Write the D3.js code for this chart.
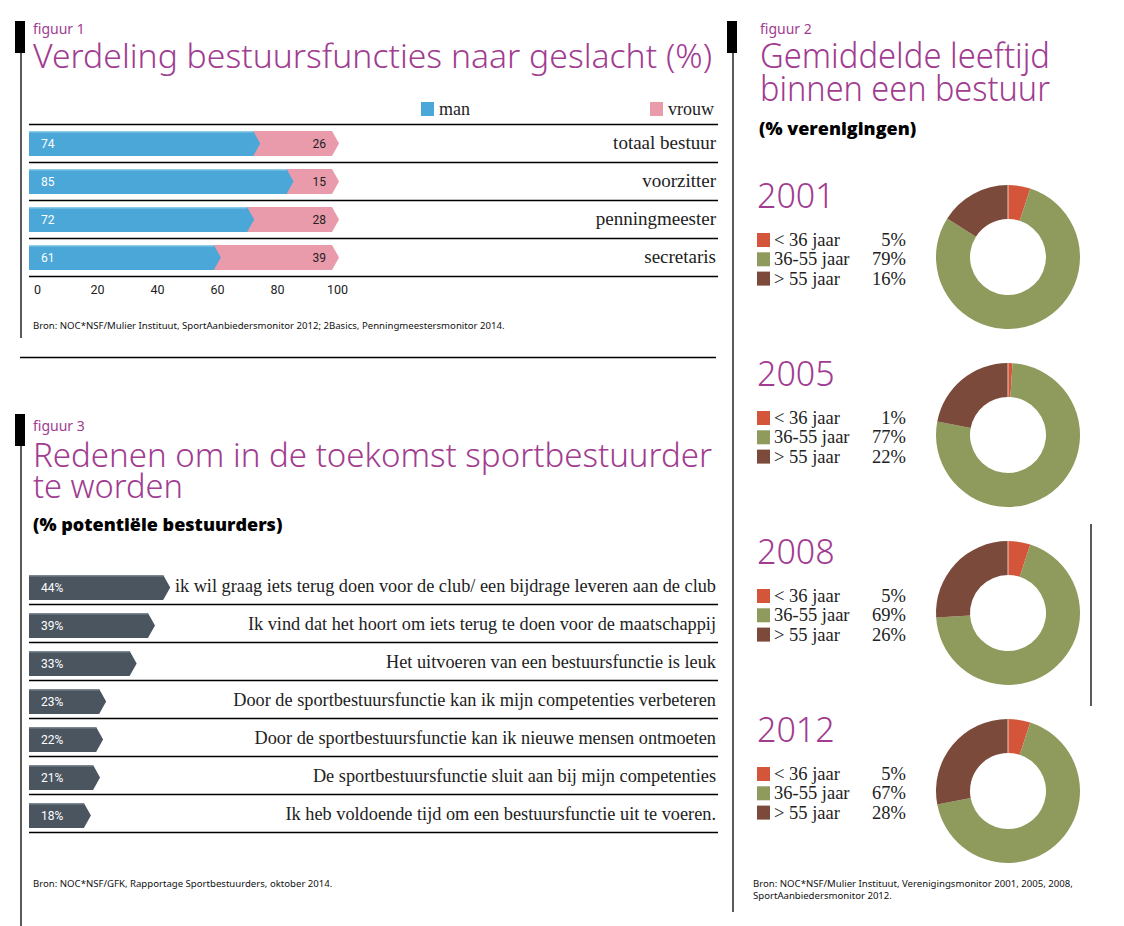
<!doctype html>
<html>
<head>
<meta charset="utf-8">
<script src="https://cdnjs.cloudflare.com/ajax/libs/d3/7.8.5/d3.min.js"></script>
<style>
  body { margin: 0; background: #fff; }
  svg { display: block; }
  .ttl { fill: #A13C91; font-family: "Noto Sans", "Open Sans", sans-serif; font-weight: 300; }
  .fig { fill: #A13C91; font-family: "Noto Sans", sans-serif; font-size: 14px; }
  .sub { fill: #000; font-family: "Open Sans", "Noto Sans", sans-serif; font-weight: 800; font-size: 18px; }
  .serif { font-family: "Liberation Serif", "DejaVu Serif", serif; fill: #222; }
  .bron { font-family: "Noto Sans", sans-serif; font-size: 9.6px; fill: #111; }
  .small { font-family: "Roboto", "Noto Sans", sans-serif; font-size: 12px; }
</style>
</head>
<body>
<svg id="chart" width="1124" height="926"></svg>
<script>
// figuur 1
var functies = ["totaal bestuur", "voorzitter", "penningmeester", "secretaris"];
var man = [74, 85, 72, 61];
var vrouw = [26, 15, 28, 39];
var ticks1 = [0, 20, 40, 60, 80, 100];

// figuur 3
var redenen = [
  "ik wil graag iets terug doen voor de club/ een bijdrage leveren aan de club",
  "Ik vind dat het hoort om iets terug te doen voor de maatschappij",
  "Het uitvoeren van een bestuursfunctie is leuk",
  "Door de sportbestuursfunctie kan ik mijn competenties verbeteren",
  "Door de sportbestuursfunctie kan ik nieuwe mensen ontmoeten",
  "De sportbestuursfunctie sluit aan bij mijn competenties",
  "Ik heb voldoende tijd om een bestuursfunctie uit te voeren."
];
var redenPct = [44, 39, 33, 23, 22, 21, 18];

// figuur 2
var jaren = ["2001", "2005", "2008", "2012"];
var leeftijden = ["< 36 jaar", "36-55 jaar", "> 55 jaar"];
var jong = [5, 1, 5, 5];
var midden = [79, 77, 69, 67];
var oud = [16, 22, 26, 28];

var purple = "#A13C91";
var svg = d3.select("#chart");

// arrow shaped bar
function arrow(x0, x1, y, h, tip) {
  return "M" + x0 + "," + y + "L" + x1 + "," + y + "L" + (x1 + tip) + "," + (y + h / 2) +
    "L" + x1 + "," + (y + h) + "L" + x0 + "," + (y + h) + "Z";
}

function title(x, y, txt, len, size) {
  svg.append("text").attr("class", "ttl").attr("x", x).attr("y", y)
    .style("font-size", size + "px")
    .attr("textLength", len).attr("lengthAdjust", "spacingAndGlyphs")
    .text(txt);
}

function marker(x, y, lineTo) {
  svg.append("rect").attr("x", x).attr("y", y).attr("width", 10).attr("height", 32).attr("fill", "#000");
  svg.append("line").attr("x1", x + 6).attr("x2", x + 6).attr("y1", y + 32).attr("y2", lineTo)
    .attr("stroke", "#000").attr("stroke-width", 1.3);
}

// ---------- figuur 1 ----------
marker(15, 21, 338);
svg.append("text").attr("class", "fig").attr("x", 33).attr("y", 34).text("figuur 1");
title(33, 68, "Verdeling bestuursfuncties naar geslacht (%)", 679, 33);

var x1 = d3.scaleLinear().domain([0, 100]).range([29, 332]);
var y1 = d3.scaleBand().domain(functies).range([131, 283]);

// legend
var leg = [["man", "#4AA7D8", 421], ["vrouw", "#E99AAB", 650]];
leg.forEach(function(l) {
  svg.append("rect").attr("x", l[2]).attr("y", 102).attr("width", 13).attr("height", 14).attr("fill", l[1]);
  svg.append("text").attr("class", "serif").attr("x", l[2] + 18).attr("y", 115)
    .style("font-size", "18px").text(l[0]);
});

svg.append("line").attr("x1", 29).attr("x2", 718).attr("y1", 124.5).attr("y2", 124.5)
  .attr("stroke", "#000").attr("stroke-width", 1.3);

var rows1 = svg.append("g").selectAll("g").data(functies).enter().append("g");
rows1.append("path").attr("fill", "#E99AAB")
  .attr("d", function(d, i) { return arrow(x1(0), x1(man[i] + vrouw[i]), y1(d), 25, 7); });
rows1.append("path").attr("fill", "#4AA7D8")
  .attr("d", function(d, i) { return arrow(x1(0), x1(man[i]), y1(d), 25, 7); });
rows1.append("line").attr("x1", x1(0)).attr("x2", function(d, i) { return x1(man[i]); })
  .attr("y1", function(d) { return y1(d) + 0.8; }).attr("y2", function(d) { return y1(d) + 0.8; })
  .attr("stroke", "#8ccaea").attr("stroke-width", 1.5);
rows1.append("text").attr("class", "small").attr("fill", "#fff")
  .attr("x", 41).attr("y", function(d) { return y1(d) + 17; })
  .text(function(d, i) { return man[i]; });
rows1.append("text").attr("class", "small").attr("fill", "#222").attr("text-anchor", "end")
  .attr("x", function(d, i) { return x1(man[i] + vrouw[i]) - 6; }).attr("y", function(d) { return y1(d) + 17; })
  .text(function(d, i) { return vrouw[i]; });
rows1.append("text").attr("class", "serif").attr("text-anchor", "end").style("font-size", "19px")
  .attr("x", 716).attr("y", function(d) { return y1(d) + 18; })
  .text(function(d) { return d; });
rows1.append("line").attr("x1", 29).attr("x2", 718)
  .attr("y1", function(d) { return y1(d) + 31.5; }).attr("y2", function(d) { return y1(d) + 31.5; })
  .attr("stroke", "#000").attr("stroke-width", 1.3);

var xAxis1 = d3.axisBottom(x1.copy().range([37, 337])).tickValues(ticks1).tickSize(0).tickPadding(0);
var ax = svg.append("g").attr("transform", "translate(0,285)").call(xAxis1);
ax.select(".domain").remove();
ax.selectAll("text").attr("class", "small").attr("fill", "#222").style("font-size", "12.5px");

svg.append("text").attr("class", "bron").attr("x", 33).attr("y", 329)
  .text("Bron: NOC*NSF/Mulier Instituut, SportAanbiedersmonitor 2012; 2Basics, Penningmeestersmonitor 2014.");

svg.append("line").attr("x1", 20).attr("x2", 716).attr("y1", 357.5).attr("y2", 357.5)
  .attr("stroke", "#000").attr("stroke-width", 1.3);

// ---------- figuur 3 ----------
marker(15, 414, 926);
svg.append("text").attr("class", "fig").attr("x", 33).attr("y", 431).text("figuur 3");
title(33, 467, "Redenen om in de toekomst sportbestuurder", 679, 33);
title(33, 498, "te worden", 150, 33);
svg.append("text").attr("class", "sub").attr("x", 33).attr("y", 531).text("(% potentiële bestuurders)");

var x3 = d3.scaleLinear().domain([0, 100]).range([29, 334]);
var y3 = d3.scaleBand().domain(redenen).range([575, 841]);

var rows3 = svg.append("g").selectAll("g").data(redenen).enter().append("g");
rows3.append("path").attr("fill", "#4A5560")
  .attr("d", function(d, i) { return arrow(x3(0), x3(redenPct[i]), y3(d), 25, 7); });
rows3.append("line").attr("x1", x3(0)).attr("x2", function(d, i) { return x3(redenPct[i]); })
  .attr("y1", function(d) { return y3(d) + 0.8; }).attr("y2", function(d) { return y3(d) + 0.8; })
  .attr("stroke", "#7d8790").attr("stroke-width", 1.5);
rows3.append("text").attr("class", "small").attr("fill", "#fff")
  .attr("x", 41).attr("y", function(d) { return y3(d) + 17; })
  .text(function(d, i) { return redenPct[i] + "%"; });
rows3.append("text").attr("class", "serif").attr("text-anchor", "end").style("font-size", "18.3px")
  .attr("x", 716).attr("y", function(d) { return y3(d) + 17; })
  .text(function(d) { return d; });
rows3.append("line").attr("x1", 29).attr("x2", 718)
  .attr("y1", function(d) { return y3(d) + 29.5; }).attr("y2", function(d) { return y3(d) + 29.5; })
  .attr("stroke", "#000").attr("stroke-width", 1.3);

svg.append("text").attr("class", "bron").attr("x", 33).attr("y", 887)
  .text("Bron: NOC*NSF/GFK, Rapportage Sportbestuurders, oktober 2014.");

// ---------- figuur 2 ----------
marker(727, 21, 912);
svg.append("line").attr("x1", 1091).attr("x2", 1091).attr("y1", 524).attr("y2", 706)
  .attr("stroke", "#000").attr("stroke-width", 1.3);
svg.append("text").attr("class", "fig").attr("x", 760).attr("y", 34).text("figuur 2");
title(760, 68, "Gemiddelde leeftijd", 290, 34);
title(760, 101, "binnen een bestuur", 290, 34);
svg.append("text").attr("class", "sub").attr("x", 759).attr("y", 135).text("(% verenigingen)");

var ageColor = d3.scaleOrdinal().domain(leeftijden).range(["#D4553A", "#8E9B5C", "#7B4A3A"]);
var yPanel = d3.scalePoint().domain(jaren).range([257, 791]);
var pie = d3.pie().sort(null).value(function(d) { return d.v; });
var arc = d3.arc().innerRadius(38).outerRadius(72);

jaren.forEach(function(j, i) {
  var vals = [jong[i], midden[i], oud[i]];
  var cy = yPanel(j);
  var g = svg.append("g");
  g.append("text").attr("x", 757).attr("y", cy - 49).attr("fill", purple)
    .style("font-family", "'Noto Sans', 'Open Sans', sans-serif").style("font-weight", 300)
    .style("font-size", "34px").text(j);
  leeftijden.forEach(function(a, k) {
    var ry = cy - 24 + k * 19.3;
    g.append("rect").attr("x", 757).attr("y", ry).attr("width", 13).attr("height", 14).attr("fill", ageColor(a));
    g.append("text").attr("class", "serif").style("font-size", "18.5px").attr("x", 774).attr("y", ry + 13).text(a);
    g.append("text").attr("class", "serif").style("font-size", "18.5px").attr("text-anchor", "end")
      .attr("x", 906).attr("y", ry + 13).text(vals[k] + "%");
  });
  var dg = g.append("g").attr("transform", "translate(1008," + cy + ")");
  dg.selectAll("path")
    .data(pie(leeftijden.map(function(a, k) { return { k: a, v: vals[k] }; })))
    .enter().append("path")
    .attr("d", arc)
    .attr("fill", function(d) { return ageColor(d.data.k); });
  dg.append("line").attr("x1", 0).attr("x2", 0).attr("y1", -72).attr("y2", -38)
    .attr("stroke", "#e8c9c0").attr("stroke-width", 1);
});

svg.append("text").attr("class", "bron").attr("x", 753).attr("y", 887)
  .text("Bron: NOC*NSF/Mulier Instituut, Verenigingsmonitor 2001, 2005, 2008,");
svg.append("text").attr("class", "bron").attr("x", 753).attr("y", 899)
  .text("SportAanbiedersmonitor 2012.");
</script>
</body>
</html>
